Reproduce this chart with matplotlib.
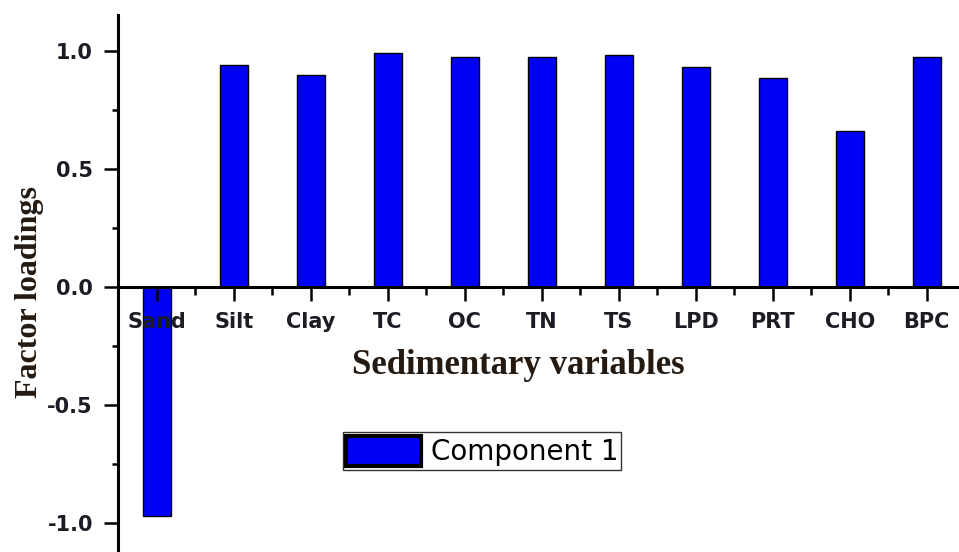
import matplotlib
matplotlib.use("Agg")
import matplotlib.pyplot as plt
from matplotlib.patches import Patch
from matplotlib.ticker import MultipleLocator

variables = ["Sand", "Silt", "Clay", "TC", "OC", "TN", "TS", "LPD", "PRT", "CHO", "BPC"]
loadings = [-0.97, 0.94, 0.90, 0.99, 0.975, 0.975, 0.985, 0.934, 0.887, 0.66, 0.976]

label_color = "#241a12"
tick_color = "#1c1c24"


def plot() -> None:
    fig = plt.figure(figsize=(9.59, 5.52), dpi=100)
    ax = fig.add_axes([118 / 959, 0.0, 1 - 118 / 959, 1 - 15 / 552])

    positions = list(range(1, len(variables) + 1))
    ax.bar(positions, loadings, width=0.36, color="#0000f5",
           edgecolor="black", linewidth=1.0, zorder=1)

    ax.set_xlim(0.494, 11.42)
    ax.set_ylim(-1.123, 1.153)

    ax.spines["top"].set_visible(False)
    ax.spines["right"].set_visible(False)
    ax.spines["bottom"].set_position(("data", 0))
    ax.spines["bottom"].set_linewidth(2.2)
    ax.spines["left"].set_linewidth(2.2)
    ax.spines["bottom"].set_zorder(3)

    ax.set_xticks(positions)
    ax.set_xticklabels(variables)
    ax.set_xticks([p + 0.5 for p in positions[:-1]], minor=True)
    ax.yaxis.set_major_locator(MultipleLocator(0.5))
    ax.yaxis.set_minor_locator(MultipleLocator(0.25))

    ax.tick_params(axis="x", which="major", direction="out", length=10,
                   width=1.8, pad=8)
    ax.tick_params(axis="x", which="minor", direction="out", length=6,
                   width=1.8)
    ax.tick_params(axis="y", which="major", direction="out", length=10,
                   width=1.8, pad=8)
    ax.tick_params(axis="y", which="minor", direction="out", length=4,
                   width=1.8)
    for lbl in ax.get_xticklabels() + ax.get_yticklabels():
        lbl.set_fontfamily("DejaVu Sans")
        lbl.set_fontweight("bold")
        lbl.set_fontsize(15)
        lbl.set_color(tick_color)
        lbl.set_zorder(4)
    ax.yaxis.set_major_formatter(plt.FuncFormatter(lambda v, _: f"{v:.1f}"))

    fig.text(518 / 959, 1 - 365 / 552, "Sedimentary variables",
             family="Liberation Serif", weight="bold", fontsize=25,
             color=label_color, ha="center", va="center")
    fig.text(30 / 959, 1 - 292 / 552, "Factor loadings",
             family="Liberation Serif", weight="bold", fontsize=23,
             color=label_color, ha="center", va="center", rotation=90)

    handle = Patch(facecolor="#0000f5", edgecolor="black", linewidth=3)
    leg = fig.legend([handle], ["Component 1"], loc="center",
                     bbox_to_anchor=(482 / 959, 1 - 451 / 552),
                     prop={"family": "DejaVu Sans", "size": 20},
                     frameon=True, fancybox=False, borderpad=0.12,
                     handlelength=2.7, handleheight=1.3, handletextpad=0.35,
                     borderaxespad=0)
    leg.get_frame().set_edgecolor("black")
    leg.get_frame().set_linewidth(1.0)

    fig.savefig("out.png", dpi=100)


if __name__ == "__main__":
    plot()
